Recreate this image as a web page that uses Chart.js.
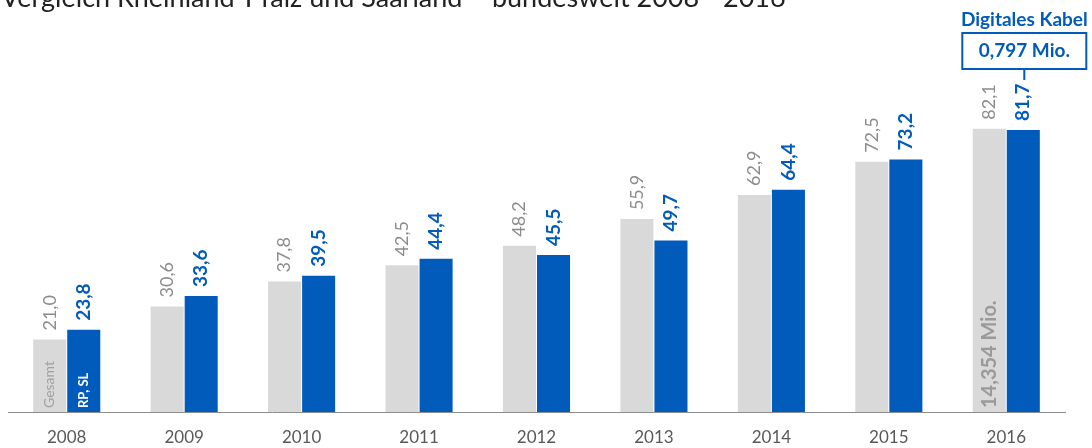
<!DOCTYPE html>
<html>
<head>
<meta charset="utf-8">
<script src="https://cdn.jsdelivr.net/npm/chart.js@4.4.1/dist/chart.umd.min.js"></script>
<style>
  html, body { margin: 0; padding: 0; background: #fff; }
  #wrap { width: 1092px; height: 448px; position: relative; }
</style>
</head>
<body>
<div id="wrap"><canvas id="kabelChart"></canvas></div>
<script>
    // Daten
    const jahre = ['2008', '2009', '2010', '2011', '2012', '2013', '2014', '2015', '2016'];
    const gesamt = [21.0, 30.6, 37.8, 42.5, 48.2, 55.9, 62.9, 72.5, 82.1];
    const rpSl = [23.8, 33.6, 39.5, 44.4, 45.5, 49.7, 64.4, 73.2, 81.7];
    const titel = 'Vergleich Rheinland-Pfalz und Saarland \u2013 bundesweit 2008 - 2016';

    const FONT = 'Lato, "Open Sans", sans-serif';
    const GRAU = '#d9d9d9';
    const BLAU = '#005bbb';
    const fmt = v => v.toFixed(1).replace('.', ',');

    // Werte über den Balken, Texte in den Balken, Titel und Kasten
    const beschriftung = {
        id: 'beschriftung',
        afterDatasetsDraw(chart) {
            const ctx = chart.ctx;
            ctx.save();

            // Titel (oben abgeschnitten wie im Original)
            let size = 22;
            ctx.font = `${size}px ${FONT}`;
            size = size * 785 / ctx.measureText(titel).width;
            ctx.font = `${size}px ${FONT}`;
            ctx.fillStyle = '#222';
            ctx.textBaseline = 'alphabetic';
            ctx.textAlign = 'left';
            ctx.fillText(titel, 1, 7);

            chart.data.datasets.forEach((ds, i) => {
                const meta = chart.getDatasetMeta(i);
                meta.data.forEach((bar, j) => {
                    ctx.save();
                    ctx.translate(bar.x, bar.y - 9);
                    ctx.rotate(-Math.PI / 2);
                    ctx.textAlign = 'left';
                    ctx.textBaseline = 'middle';
                    if (i === 0) {
                        ctx.font = `18px ${FONT}`;
                        ctx.fillStyle = '#8c8c8c';
                    } else {
                        ctx.font = `bold 19px ${FONT}`;
                        ctx.fillStyle = BLAU;
                    }
                    ctx.fillText(fmt(ds.data[j]), 0, 0);
                    ctx.restore();
                });
            });

            // Texte innen
            const base = chart.chartArea.bottom;
            const innen = (bar, text, font, color) => {
                ctx.save();
                ctx.translate(bar.x, base - 4);
                ctx.rotate(-Math.PI / 2);
                ctx.textAlign = 'left';
                ctx.textBaseline = 'middle';
                ctx.font = font;
                ctx.fillStyle = color;
                ctx.fillText(text, 0, 0);
                ctx.restore();
            };
            const g = chart.getDatasetMeta(0).data;
            const b = chart.getDatasetMeta(1).data;
            innen(g[0], 'Gesamt', `14px ${FONT}`, '#a0a0a0');
            innen(b[0], 'RP, SL', `bold 13px ${FONT}`, '#ffffff');
            innen(g[g.length - 1], '14,354 Mio.', `bold 20px ${FONT}`, '#9a9a9a');

            // Kasten Digitales Kabel
            const last = b[b.length - 1];
            const cx = last.x + 1;
            ctx.textAlign = 'center';
            ctx.textBaseline = 'middle';
            ctx.fillStyle = BLAU;
            ctx.font = `bold 19px ${FONT}`;
            ctx.fillText('Digitales Kabel', cx, 20);
            ctx.strokeStyle = BLAU;
            ctx.lineWidth = 2;
            ctx.strokeRect(cx - 62, 33, 124, 36);
            ctx.font = `bold 19px ${FONT}`;
            ctx.fillText('0,797 Mio.', cx, 51);
            ctx.beginPath();
            ctx.moveTo(cx, 69);
            ctx.lineTo(cx, 80);
            ctx.stroke();

            ctx.restore();
        }
    };

    const ctx = document.getElementById('kabelChart').getContext('2d');
    const kabelChart = new Chart(ctx, {
        type: 'bar',
        data: {
            labels: jahre,
            datasets: [{
                label: 'Gesamt',
                data: gesamt,
                backgroundColor: GRAU,
                categoryPercentage: 0.58,
                barPercentage: 0.97
            },
            {
                label: 'RP, SL',
                data: rpSl,
                backgroundColor: BLAU,
                categoryPercentage: 0.58,
                barPercentage: 0.97
            }]
        },
        options: {
            responsive: true,
            maintainAspectRatio: false,
            animation: false,
            layout: {
                padding: { left: 8, right: 27, top: 30, bottom: -6.4 }
            },
            plugins: {
                legend: { display: false },
                tooltip: { enabled: false }
            },
            scales: {
                y: {
                    display: false,
                    min: 0,
                    max: 110.7
                },
                x: {
                    grid: { display: false },
                    border: { display: true, color: '#8c8c8c', width: 1 },
                    ticks: {
                        color: '#595959',
                        padding: 7,
                        font: { family: FONT, size: 17 }
                    }
                }
            }
        },
        plugins: [beschriftung]
    });
</script>
</body>
</html>
